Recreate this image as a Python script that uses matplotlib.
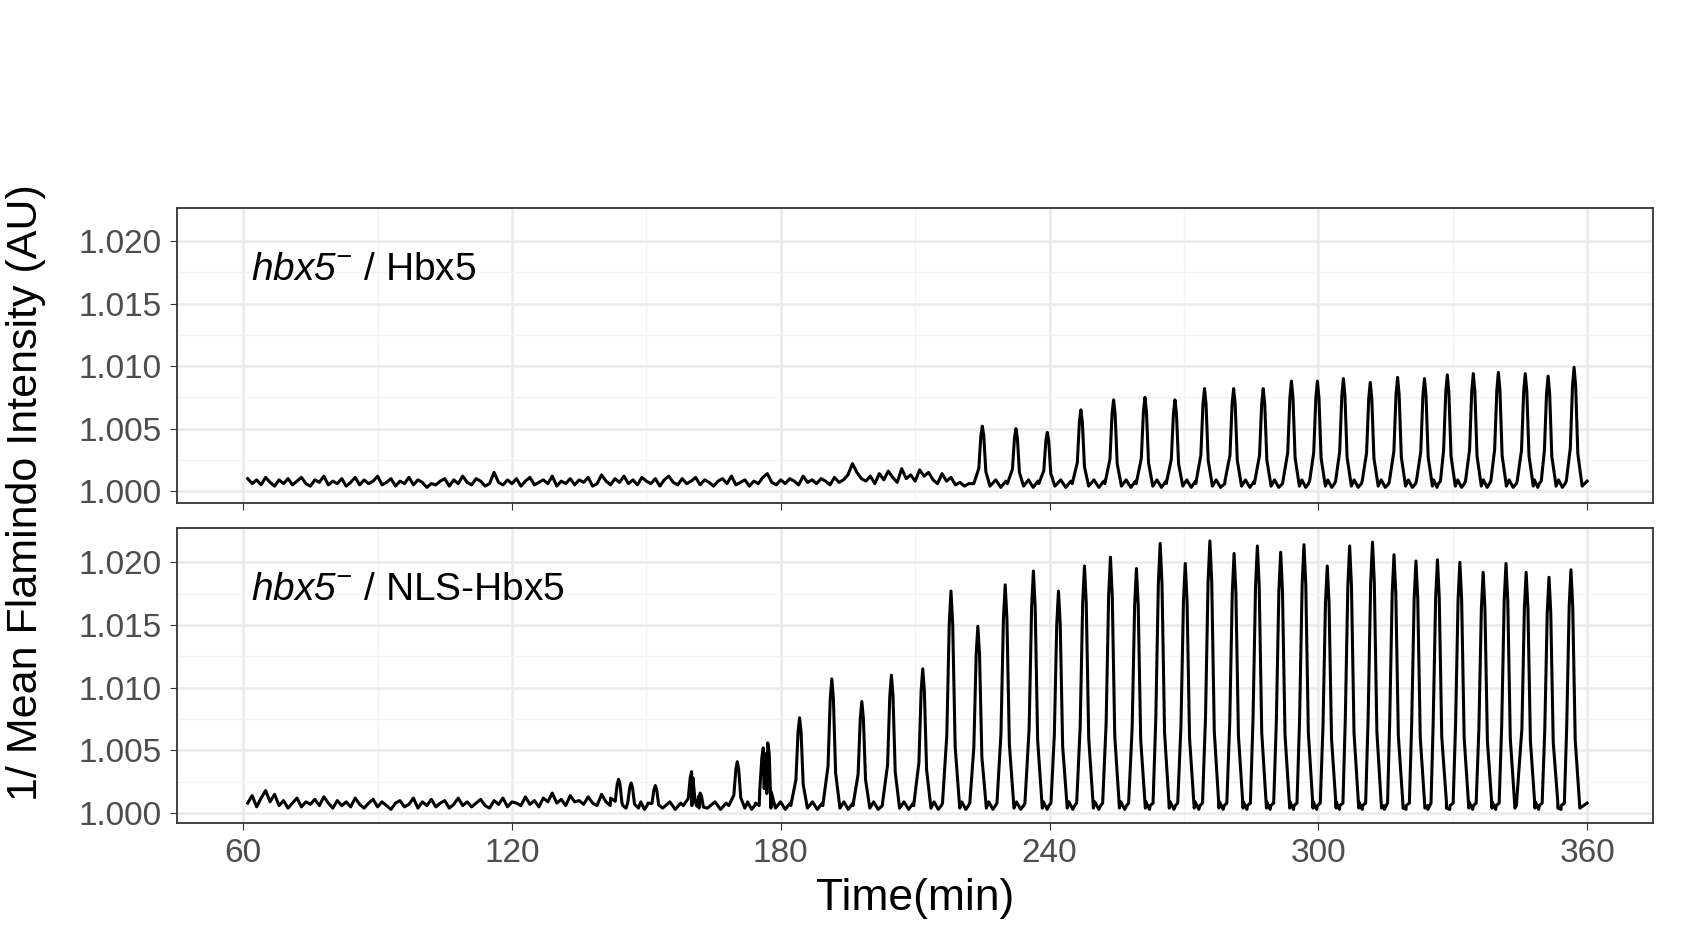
import matplotlib
matplotlib.use('Agg')
import matplotlib.pyplot as plt
import numpy as np

plt.rcParams['font.family'] = ['Arial', 'Liberation Sans', 'DejaVu Sans']
plt.rcParams['mathtext.fontset'] = 'custom'
plt.rcParams['mathtext.it'] = 'Liberation Sans:italic'
plt.rcParams['mathtext.rm'] = 'Liberation Sans:italic'

# baseline values (1e-4 above 1.000) at one-minute steps
top_base_start = 61
top_base = [10, 6, 9, 5, 11, 7, 4, 9, 6, 10, 5, 8, 11, 6, 4, 9, 7, 12, 5, 8,
            6, 10, 4, 7, 11, 5, 9, 6, 8, 12, 5, 7, 10, 4, 8, 6, 11, 5, 9, 7,
            3, 6, 5, 8, 10, 4, 9, 6, 12, 7, 5, 10, 8, 4, 6, 15, 7, 5, 9, 6,
            10, 4, 8, 11, 5, 7, 9, 6, 12, 4, 8, 6, 10, 5, 9, 7, 11, 4, 6, 13,
            8, 5, 10, 7, 12, 6, 9, 5, 11, 8, 6, 10, 4, 9, 12, 7, 5, 10, 6, 8,
            11, 5, 9, 7, 4, 8, 10, 6, 12, 5, 7, 9, 4, 8, 6, 11, 14, 7, 5, 9,
            6, 10, 8, 5, 12, 7, 9, 6, 10, 8, 5, 11, 7, 9, 13, 22, 15, 10, 8, 12,
            6, 14, 9, 16, 11, 7, 18, 10, 13, 8, 17, 12, 15, 9, 6, 14, 8, 11, 5, 7,
            4, 6]
top_peak_t = [225.0, 232.5, 239.5, 247.0, 254.3, 261.3, 268.0, 274.6, 281.1, 287.7, 294.0,
              299.8, 305.6, 311.6, 317.7, 323.7, 328.8, 334.6, 340.2, 346.2, 351.3, 357.1]
top_peak_v = [1.0052, 1.0050, 1.0047, 1.0065, 1.0073, 1.0075, 1.0073, 1.0082, 1.0082, 1.0082, 1.0088,
              1.0088, 1.0090, 1.0087, 1.0091, 1.0090, 1.0093, 1.0094, 1.0095, 1.0094, 1.0092, 1.0099]

bot_base_start = 61
bot_base = [8, 14, 5, 12, 18, 9, 15, 6, 10, 4, 8, 12, 5, 9, 7, 11, 6, 13, 8, 4,
            10, 6, 9, 5, 12, 7, 4, 8, 11, 5, 9, 6, 3, 8, 10, 5, 7, 12, 4, 9,
            6, 11, 5, 8, 10, 4, 7, 12, 6, 9, 5, 8, 11, 6, 4, 10, 7, 12, 5, 9,
            8, 6, 13, 7, 10, 5, 12, 9, 16, 8, 11, 6, 14, 9, 10, 7, 13, 8, 6, 15,
            9, 12]
bot_peak_t = [143.8, 146.6, 152.0, 160.1, 162.0, 170.3, 176.1, 177.1, 184.2, 191.4, 198.1, 204.7,
              211.7, 218.0, 224.0, 230.1, 236.4, 242.0, 247.8, 253.6, 259.4, 264.7, 270.3,
              275.8, 281.2, 286.4, 291.6, 296.8, 302.0, 307.0, 312.1, 316.9, 321.8, 326.6,
              331.6, 336.8, 341.9, 346.4, 351.5, 356.4]
bot_peak_v = [1.0027, 1.0024, 1.0022, 1.0033, 1.0016, 1.0041, 1.0052, 1.0056, 1.0076, 1.0107,
              1.0089, 1.0110, 1.0115, 1.0177, 1.0149, 1.0182, 1.0193, 1.0177, 1.0197, 1.0204,
              1.0195, 1.0215, 1.0199, 1.0217, 1.0207, 1.0213, 1.0208, 1.0214, 1.0197, 1.0213,
              1.0216, 1.0206, 1.0201, 1.0202, 1.0200, 1.0192, 1.0199, 1.0192, 1.0188, 1.0194]
end_t = 360.0


def build(base_start, base, peak_t, peak_v):
    t = [base_start + i for i in range(len(base))]
    v = [1.0 + b * 1e-4 for b in base]
    for i, (p, h) in enumerate(zip(peak_t, peak_v)):
        w = 1.2 + 0.4 * (h - 1.0) / 0.02
        t += [p - w - 0.6, p - w * 0.6, p - w * 0.25, p, p + w * 0.25, p + w * 0.6, p + w + 0.4]
        d = h - 1.0
        v += [1.0006, 1.0 + d * 0.35, 1.0 + d * 0.85, h, 1.0 + d * 0.85, 1.0 + d * 0.3, 1.0004]
        nxt = peak_t[i + 1] if i + 1 < len(peak_t) else end_t
        gap = nxt - p
        if gap > 4.5:
            t += [p + gap * 0.4, p + gap * 0.55, p + gap * 0.7]
            v += [1.0009, 1.0003, 1.0008]
    t.append(end_t)
    v.append(1.0008)
    order = np.argsort(t)
    return np.array(t)[order], np.array(v)[order]


fig = plt.figure(figsize=(17.01, 9.30), dpi=100)
ax1 = fig.add_axes([0.104, 0.459, 0.868, 0.317])
ax2 = fig.add_axes([0.104, 0.115, 0.868, 0.317])

panels = [(ax1, build(top_base_start, top_base, top_peak_t, top_peak_v), ' / Hbx5', (0.99904, 1.02262)),
          (ax2, build(bot_base_start, bot_base, bot_peak_t, bot_peak_v), ' / NLS-Hbx5', (0.99921, 1.02271))]

for ax, (t, v), lab, yl in panels:
    ax.plot(t, v, color='black', lw=2.2)
    ax.set_xlim(45.2, 374.8)
    ax.set_ylim(*yl)
    ax.set_xticks([60, 120, 180, 240, 300, 360])
    ax.set_xticks([90, 150, 210, 270, 330], minor=True)
    ax.set_yticks([1.000, 1.005, 1.010, 1.015, 1.020])
    ax.set_yticks([1.0025, 1.0075, 1.0125, 1.0175], minor=True)
    ax.set_yticklabels(['1.000', '1.005', '1.010', '1.015', '1.020'])
    ax.grid(which='major', color='#EBEBEB', lw=1.8)
    ax.grid(which='minor', color='#F3F3F3', lw=1.0)
    ax.set_axisbelow(True)
    for s in ax.spines.values():
        s.set_color('#333333')
        s.set_linewidth(1.3)
    ax.tick_params(which='major', length=5, color='#333333', labelsize=24, labelcolor='#4D4D4D', pad=6)
    ax.tick_params(which='minor', length=0)
    ax.text(0.05, 0.79, r'$hbx5^{-}$' + lab, transform=ax.transAxes,
            fontsize=28, va='center')

ax1.tick_params(labelbottom=False)
ax2.set_xlabel('Time(min)', fontsize=32, labelpad=6)
fig.text(0.015, 0.47, '1/ Mean Flamindo Intensity (AU)', rotation=90, fontsize=31,
         ha='center', va='center')

fig.savefig('out.png', dpi=100)
